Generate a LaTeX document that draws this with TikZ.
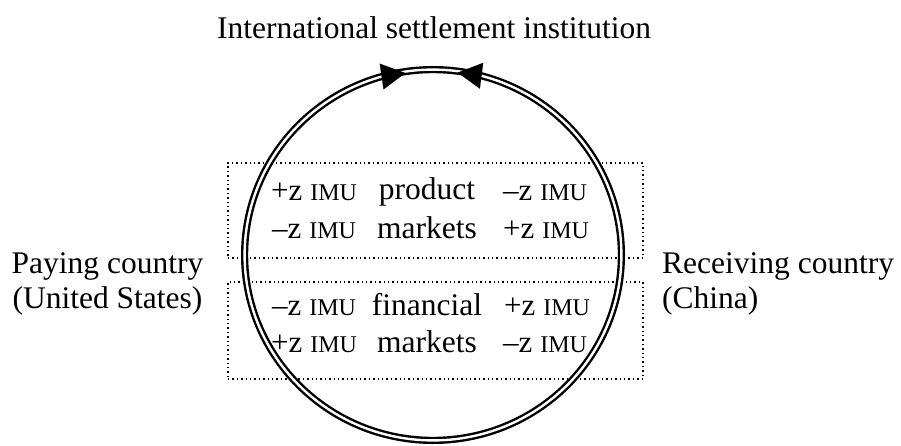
\documentclass[tikz,border=0pt]{standalone}
\usepackage{fontspec}
\setmainfont{Liberation Serif}
\usetikzlibrary{arrows.meta,positioning}
\providecommand{\imu}{}
\renewcommand{\imu}[1]{{\fontsize{31}{32}\selectfont #1z}\hspace{8pt}{\fontsize{24}{26}\selectfont IMU}}

\begin{document}
\begin{tikzpicture}[x=1pt, y=-1pt,
  lbl/.style={inner sep=0pt,font=\fontsize{31.5}{35}\selectfont},
  im/.style={inner sep=0pt,anchor=base},
  mk/.style={draw,line width=1.4pt,dash pattern=on 1.4pt off 3pt,minimum width=415pt,inner sep=0pt},
  ring/.style={draw,double,line width=2.4pt,double distance=2.4pt},
  ar/.style={-{Triangle[length=24pt,width=26pt]},line width=0.1pt}]
\useasboundingbox (0,0) rectangle (901,446);

% market boxes
\node[mk,minimum height=95pt] (pbox) at (435.5,210.5) {};
\node[mk,minimum height=97pt] (fbox) at (435.5,330.5) {};

% settlement ring
\coordinate (c) at (433,255);
\draw[ring] (c) ellipse [x radius=188.4pt, y radius=185.4pt];
\draw[ar] (c) ++(107:187pt and 184pt) arc[start angle=107, end angle=98.5, x radius=187pt, y radius=184pt];
\draw[ar] (c) ++(75:187pt and 184pt) arc[start angle=75, end angle=82.4, x radius=187pt, y radius=184pt];

\node[lbl,anchor=base] (ttl) at (434,39) {International settlement institution};

\node[lbl,anchor=base] (prod) at (427,200) {product};
\node[lbl,below=38pt of prod.base,anchor=base] (mkt1) {markets};
\node[lbl,anchor=base] (fin) at (427,315) {financial};
\node[lbl,below=37pt of fin.base,anchor=base] (mkt2) {markets};

\node[im] (p1) at (314,201) {\imu{+}};
\node[im] (p2) at (545,201) {\imu{\textendash}};
\node[im] (p3) at (314,239) {\imu{\textendash}};
\node[im] (p4) at (546,239) {\imu{+}};
\node[im] (f1) at (314,315) {\imu{\textendash}};
\node[im] (f2) at (547,315) {\imu{+}};
\node[im] (f3) at (314,352) {\imu{+}};
\node[im] (f4) at (545,352) {\imu{\textendash}};

\node[lbl,align=center,anchor=base] (pay) at (107.5,308) {Paying country\\(United States)};
\node[lbl,align=left,anchor=base west] (rec) at (662,308) {Receiving country\\(China)};
\end{tikzpicture}
\end{document}
